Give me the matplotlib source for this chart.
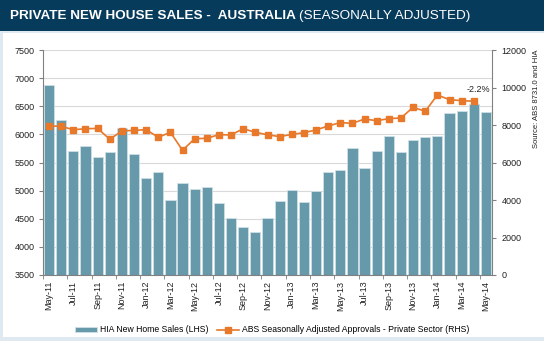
import matplotlib
matplotlib.use("Agg")
import matplotlib.pyplot as plt
from matplotlib.patches import Rectangle

plt.rcParams['font.family'] = ['Liberation Sans', 'DejaVu Sans']

months = ["May-11","Jun-11","Jul-11","Aug-11","Sep-11","Oct-11","Nov-11","Dec-11",
          "Jan-12","Feb-12","Mar-12","Apr-12","May-12","Jun-12","Jul-12","Aug-12",
          "Sep-12","Oct-12","Nov-12","Dec-12","Jan-13","Feb-13","Mar-13","Apr-13",
          "May-13","Jun-13","Jul-13","Aug-13","Sep-13","Oct-13","Nov-13","Dec-13",
          "Jan-14","Feb-14","Mar-14","Apr-14","May-14"]

hia_sales = [6870, 6260, 5700, 5785, 5590, 5690, 6110, 5645,
             5230, 5340, 4825, 5130, 5030, 5070, 4785, 4510,
             4350, 4265, 4505, 4815, 5005, 4805, 4995, 5325,
             5375, 5765, 5395, 5710, 5970, 5695, 5905, 5955,
             5970, 6385, 6420, 6540, 6400]

abs_approvals = [7950, 7930, 7750, 7800, 7820, 7240, 7680, 7715,
                 7750, 7345, 7610, 6650, 7270, 7290, 7485, 7467,
                 7805, 7609, 7480, 7380, 7500, 7590, 7735, 7950,
                 8125, 8090, 8320, 8230, 8340, 8375, 8945, 8730,
                 9600, 9350, 9300, 9265]

tick_labels = months[::2]
annotation_text = "-2.2%"

W, H = 544, 341
fig = plt.figure(figsize=(W/100, H/100), dpi=100)
fig.patch.set_facecolor('#dfe9f1')
# white body
fig.patches.append(Rectangle((3/W, 4/H), 1 - 3/W, (H - 4 - 33)/H, transform=fig.transFigure,
                             facecolor='white', edgecolor='none', zorder=-2))
# title bar
fig.patches.append(Rectangle((0, (H - 31)/H), 1, 31/H, transform=fig.transFigure,
                             facecolor='#073b5c', edgecolor='none', zorder=-2))
t1 = fig.text(10/W, (H - 16)/H, "PRIVATE NEW HOUSE SALES -  AUSTRALIA ", color='white',
              fontsize=9.7, fontweight='bold', va='center', ha='left')
fig.canvas.draw()
bb = t1.get_window_extent()
fig.text(bb.x1/W, (H - 16)/H, "(SEASONALLY ADJUSTED)", color='white',
         fontsize=9.7, va='center', ha='left')

ax = fig.add_axes([43/W, (H - 275)/H, (492 - 43)/W, 225/H])
ax.set_zorder(1)
ax.set_facecolor('none')
x = list(range(len(months)))
ax.bar(x, hia_sales, width=0.84, color='#6699aa', edgecolor='#cfe0e7', linewidth=0.6,
       zorder=2, label='HIA New Home Sales (LHS)')
ax.set_ylim(3500, 7500)
ax.set_yticks(range(3500, 7501, 500))
ax.set_xlim(-0.5, len(months) - 0.5)
ax.yaxis.grid(True, color='#d9d9d9', linewidth=0.8, zorder=0)
ax.set_axisbelow(True)

ax.set_xticks(x[::2])
ax.set_xticklabels(tick_labels, rotation=90, fontsize=6.5, color='#222222')
ax.tick_params(axis='x', which='major', length=0, pad=4)
ax.set_xticks([i - 0.5 for i in range(0, len(months), 2)], minor=True)
ax.tick_params(axis='x', which='minor', length=3, color='#808080')
ax.tick_params(axis='y', length=3, color='#808080', labelsize=6.5, labelcolor='#222222', pad=3)

for s in ['top', 'right']:
    ax.spines[s].set_visible(False)
for s in ['left', 'bottom']:
    ax.spines[s].set_color('#808080')
    ax.spines[s].set_linewidth(0.8)

ax2 = ax.twinx()
ax2.set_zorder(2)
ax2.set_facecolor('none')
ax2.plot(list(range(len(abs_approvals))), abs_approvals, color='#e8782a', marker='s',
         markersize=5, linewidth=1.2, zorder=3,
         label='ABS Seasonally Adjusted Approvals - Private Sector (RHS)')
ax2.set_ylim(0, 12000)
ax2.set_yticks(range(0, 12001, 2000))
ax2.tick_params(axis='y', length=3, color='#808080', labelsize=6.5, labelcolor='#222222', pad=4)
for s in ['top', 'left', 'bottom']:
    ax2.spines[s].set_visible(False)
ax2.spines['right'].set_color('#808080')
ax2.spines['right'].set_linewidth(0.8)

last = len(abs_approvals) - 1
ax2.annotate(annotation_text, xy=(last, abs_approvals[last]), xytext=(3, 5),
             textcoords='offset points', ha='center', va='bottom', fontsize=6.5, color='#222222')

fig.text(537/W, (H - 99)/H, "Source: ABS 8731.0 and HIA", rotation=90, fontsize=5.5,
         ha='center', va='center', color='#222222')

h1, l1 = ax.get_legend_handles_labels()
h2, l2 = ax2.get_legend_handles_labels()
fig.legend(h1 + h2, l1 + l2, loc='center', bbox_to_anchor=(272/W, (H - 330)/H),
           ncol=2, frameon=False, fontsize=6.2, handlelength=2.6, handleheight=0.6,
           columnspacing=1.0, handletextpad=0.3)

fig.savefig('out.png', dpi=100)
